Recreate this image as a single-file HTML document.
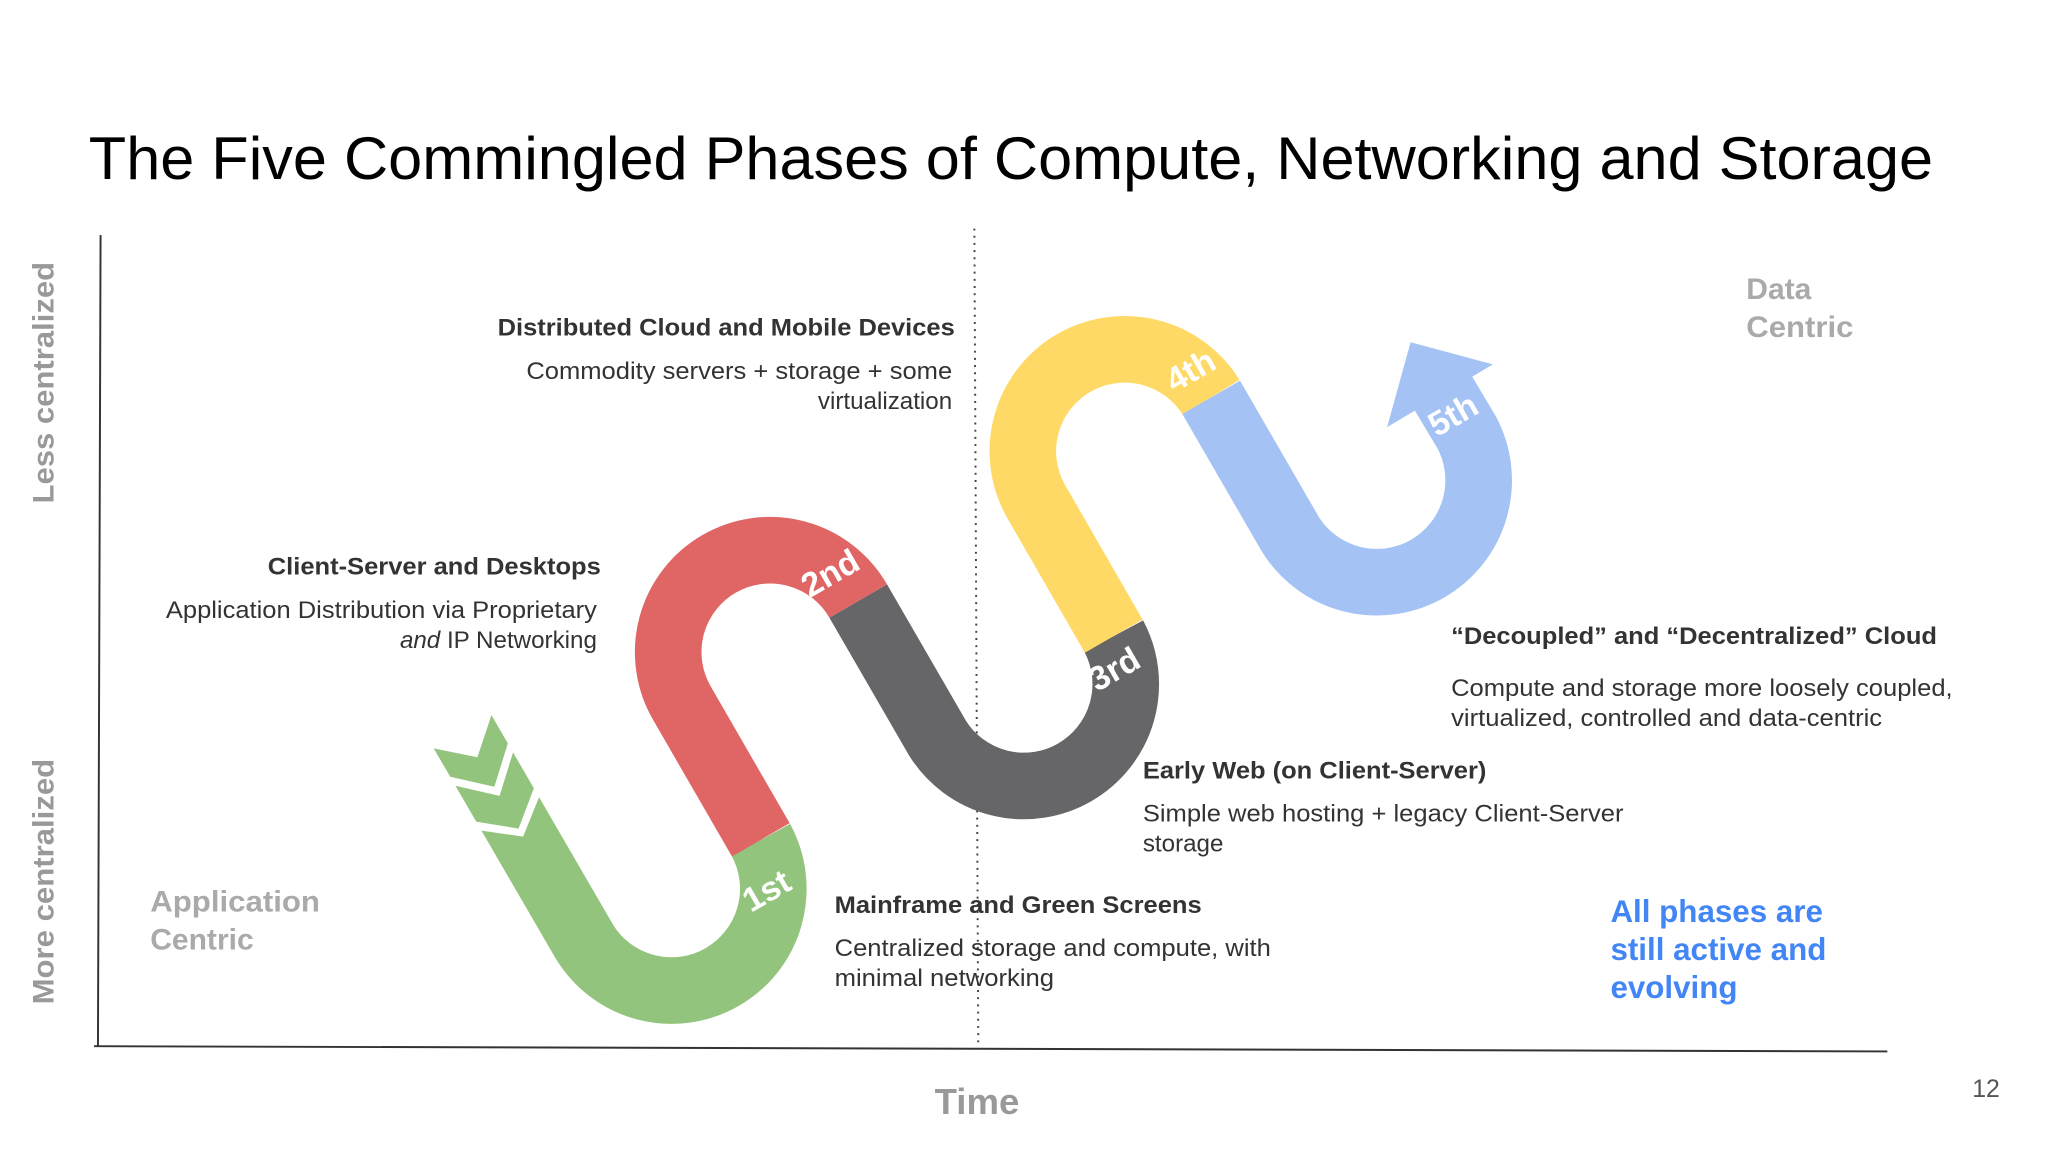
<!DOCTYPE html>
<html><head><meta charset="utf-8"><style>
html,body{margin:0;padding:0;background:#fff;}
svg{display:block;}
text{font-family:"Liberation Sans",Arial,sans-serif;}
</style></head><body>
<svg width="2048" height="1152" viewBox="0 0 1568 882" xmlns="http://www.w3.org/2000/svg">
<rect width="1568" height="882" fill="#fff"/>
<text x="68" y="137" font-size="46" fill="#000" textLength="1412" lengthAdjust="spacingAndGlyphs">The Five Commingled Phases of Compute, Networking and Storage</text>

<!-- axes -->
<line x1="77" y1="180" x2="75" y2="801" stroke="#333" stroke-width="1.5"/>
<line x1="72" y1="801" x2="1445" y2="805" stroke="#333" stroke-width="1.5"/>
<line x1="746" y1="175" x2="749" y2="800" stroke="#444" stroke-width="1.5" stroke-dasharray="1.5,4"/>

<text transform="translate(41,293) rotate(-90)" text-anchor="middle" font-size="23" font-weight="bold" fill="#999" textLength="185" lengthAdjust="spacingAndGlyphs">Less centralized</text>
<text transform="translate(41,675) rotate(-90)" text-anchor="middle" font-size="23" font-weight="bold" fill="#999" textLength="188" lengthAdjust="spacingAndGlyphs">More centralized</text>
<text x="115" y="698" font-size="23" font-weight="bold" fill="#aaa" textLength="130" lengthAdjust="spacingAndGlyphs">Application</text>
<text x="115" y="727" font-size="23" font-weight="bold" fill="#aaa">Centric</text>
<text x="1337" y="229" font-size="23" font-weight="bold" fill="#aaa">Data</text>
<text x="1337" y="258" font-size="23" font-weight="bold" fill="#aaa" textLength="82" lengthAdjust="spacingAndGlyphs">Centric</text>
<text x="748" y="853" text-anchor="middle" font-size="28" font-weight="bold" fill="#999">Time</text>
<text x="1510" y="840" font-size="19" fill="#555">12</text>

<!-- serpentine -->
<g fill="none" stroke-width="51" stroke-linecap="butt">
<path d="M353.5 559.1 L447.45 721 A78 78 0 0 0 582.5 643" stroke="#93c47d"/>
<path d="M582.5 643 L522 538.2 A78 78 0 0 1 657.1 460.2" stroke="#e06666"/>
<path d="M657.1 460.2 L717.7 565 A78 78 0 0 0 852.7 487" stroke="#666567"/>
<path d="M852.7 487 L792.3 382.2 A78 78 0 0 1 927.3 304.2" stroke="#ffd966"/>
<path d="M927.3 304.2 L987.9 409 A78 78 0 0 0 1122.9 331 L1105 301" stroke="#a4c2f4"/>
</g>
<polygon points="1080,262 1143,279 1062,327" fill="#a4c2f4"/>
<!-- chevron cuts -->
<polygon points="330.1,572.6 365.5,579.8 376.9,545.6 380,540 320,540" fill="#fff"/>
<polygon points="342.6,594.2 378.5,602.4 389.4,567.2 393.4,574.1 382.5,609.3 346.6,601.1" fill="#fff"/>
<polygon points="362.6,628.8 397,634.4 409.4,601.8 413.4,608.7 400.5,640.5 366.6,635.7" fill="#fff"/>

<g font-size="26" font-weight="bold" fill="#fff">
<text transform="translate(575,699) rotate(-30)">1st</text>
<text transform="translate(620,458) rotate(-30)">2nd</text>
<text transform="translate(840,530) rotate(-30)">3rd</text>
<text transform="translate(899,301) rotate(-30)">4th</text>
<text transform="translate(1100,335) rotate(-30)">5th</text>
</g>

<!-- text blocks -->
<g font-size="18.5" fill="#333">
<text x="731" y="257" text-anchor="end" font-weight="bold" textLength="350" lengthAdjust="spacingAndGlyphs">Distributed Cloud and Mobile Devices</text>
<text x="729" y="290" text-anchor="end" textLength="326" lengthAdjust="spacingAndGlyphs">Commodity servers + storage + some</text>
<text x="729" y="313" text-anchor="end">virtualization</text>

<text x="460" y="440" text-anchor="end" font-weight="bold" textLength="255" lengthAdjust="spacingAndGlyphs">Client-Server and Desktops</text>
<text x="457" y="473" text-anchor="end" textLength="330" lengthAdjust="spacingAndGlyphs">Application Distribution via Proprietary</text>
<text x="457" y="496" text-anchor="end"><tspan font-style="italic">and</tspan> IP Networking</text>

<text x="1111" y="493" font-weight="bold" textLength="372" lengthAdjust="spacingAndGlyphs">“Decoupled” and “Decentralized” Cloud</text>
<text x="1111" y="533" textLength="384" lengthAdjust="spacingAndGlyphs">Compute and storage more loosely coupled,</text>
<text x="1111" y="556" textLength="330" lengthAdjust="spacingAndGlyphs">virtualized, controlled and data-centric</text>

<text x="875" y="596" font-weight="bold" textLength="263" lengthAdjust="spacingAndGlyphs">Early Web (on Client-Server)</text>
<text x="875" y="629" textLength="368" lengthAdjust="spacingAndGlyphs">Simple web hosting + legacy Client-Server</text>
<text x="875" y="652">storage</text>

<text x="639" y="699" font-weight="bold" textLength="281" lengthAdjust="spacingAndGlyphs">Mainframe and Green Screens</text>
<text x="639" y="732" textLength="334" lengthAdjust="spacingAndGlyphs">Centralized storage and compute, with</text>
<text x="639" y="755" textLength="168" lengthAdjust="spacingAndGlyphs">minimal networking</text>
</g>

<g font-size="24" font-weight="bold" fill="#4285f4">
<text x="1233" y="706">All phases are</text>
<text x="1233" y="735">still active and</text>
<text x="1233" y="764">evolving</text>
</g>
</svg>
</body></html>
